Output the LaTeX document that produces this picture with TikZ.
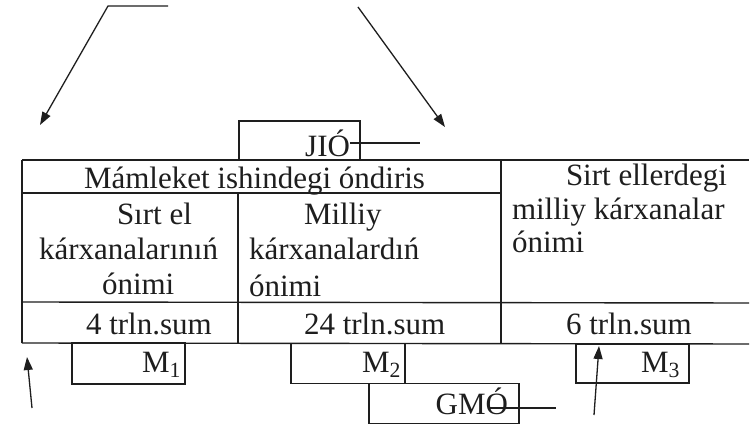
\documentclass[tikz,border=0pt]{standalone}
\usepackage{fontspec}
\setmainfont{Liberation Serif}
\usetikzlibrary{arrows.meta}
\definecolor{ink}{HTML}{1E1E1E}
\tikzset{
  rule/.style={draw=ink, line width=1.4pt},
  arr/.style={draw=ink, line width=1.3pt, -{Triangle[length=13pt,width=9pt]}},
  txt/.style={inner sep=0pt, outer sep=0pt, text=ink, font=\fontsize{31}{35}\selectfont},
  lbox/.style={draw=ink, line width=1.4pt, inner sep=0pt, outer sep=0pt},
}
\begin{document}
\begin{tikzpicture}[x=1pt,y=-1pt]
\useasboundingbox (0,0) rectangle (752,427);
\fill[white] (0,0) rectangle (752,427);

% table
\coordinate (tl) at (22,160);
\coordinate (tr) at (749,160);
\coordinate (bl) at (22,343);
\coordinate (br) at (749,344);
\draw[rule] (tl) -- (tr);
\draw[rule] (tl) -- (bl);
\draw[rule] (bl) -- (br);
\draw[rule] (22,302) -- (749,303);
\draw[rule] (22,193) -- (501,193);
\draw[rule] (238,193) -- (238,343);
\draw[rule] (501,160) -- (501,344);

% label boxes
\node[lbox, minimum width=121pt, minimum height=39pt] (jiobox) at (299.5,140.5) {};
\node[lbox, minimum width=113pt, minimum height=41pt] (m1box) at (128.5,363.5) {};
\node[lbox, minimum width=114pt, minimum height=40pt] (m2box) at (348,363.5) {};
\node[lbox, minimum width=113pt, minimum height=39pt] (m3box) at (632.5,363.5) {};
\node[lbox, minimum width=150pt, minimum height=40pt] (gmobox) at (444,403.5) {};

% texts
\node[txt, anchor=base west] (hdr) at (84,189) {Mámleket ishindegi óndiris};
\node[txt, anchor=base west] (a1) at (117,225) {Sırt el};
\node[txt, anchor=base west] (a2) at (39,260) {kárxanalarınıń};
\node[txt, anchor=base west] (a3) at (102,295) {ónimi};
\node[txt, anchor=base west] (b1) at (304,225) {Milliy};
\node[txt, anchor=base west] (b2) at (249,260) {kárxanalardıń};
\node[txt, anchor=base west] (b3) at (249,297) {ónimi};
\node[txt, anchor=base west] (c1) at (566,186) {Sirt ellerdegi};
\node[txt, anchor=base west] (c2) at (512,220) {milliy kárxanalar};
\node[txt, anchor=base west] (c3) at (512,253) {ónimi};
\node[txt, anchor=base west] (va) at (86,335) {4 trln.sum};
\node[txt, anchor=base west] (vb) at (304,335) {24 trln.sum};
\node[txt, anchor=base west] (vc) at (566,335) {6 trln.sum};
\node[txt, anchor=base east] (jio) at (350,157) {JIÓ};
\node[txt, anchor=base east] (m1) at (181,372) {M\textsubscript{1}};
\node[txt, anchor=base east] (m2) at (401,372) {M\textsubscript{2}};
\node[txt, anchor=base east] (m3) at (680,372) {M\textsubscript{3}};
\node[txt, anchor=base east] (gmo) at (508,414) {GMÓ};

% lines after JIÓ and GMÓ
\coordinate (jioend) at (420,143);
\draw[rule] (jio.east |- jioend) -- (jioend);
\coordinate (gmoend) at (556,408);
\draw[rule] ([xshift=-19pt]gmo.east |- gmoend) -- (gmoend);

% arrows
\coordinate (t1a) at (168,6);
\coordinate (t1b) at (108,6);
\coordinate (t1c) at (40,125);
\draw[arr] (t1a) -- (t1b) -- (t1c);
\coordinate (t2a) at (358,7);
\coordinate (t2b) at (445,127);
\draw[arr] (t2a) -- (t2b);
\coordinate (b1a) at (32,408);
\coordinate (b1b) at (27,357);
\draw[arr] (b1a) -- (b1b);
\coordinate (b2a) at (594,415);
\coordinate (b2b) at (599,346);
\draw[arr] (b2a) -- (b2b);
\end{tikzpicture}
\end{document}
